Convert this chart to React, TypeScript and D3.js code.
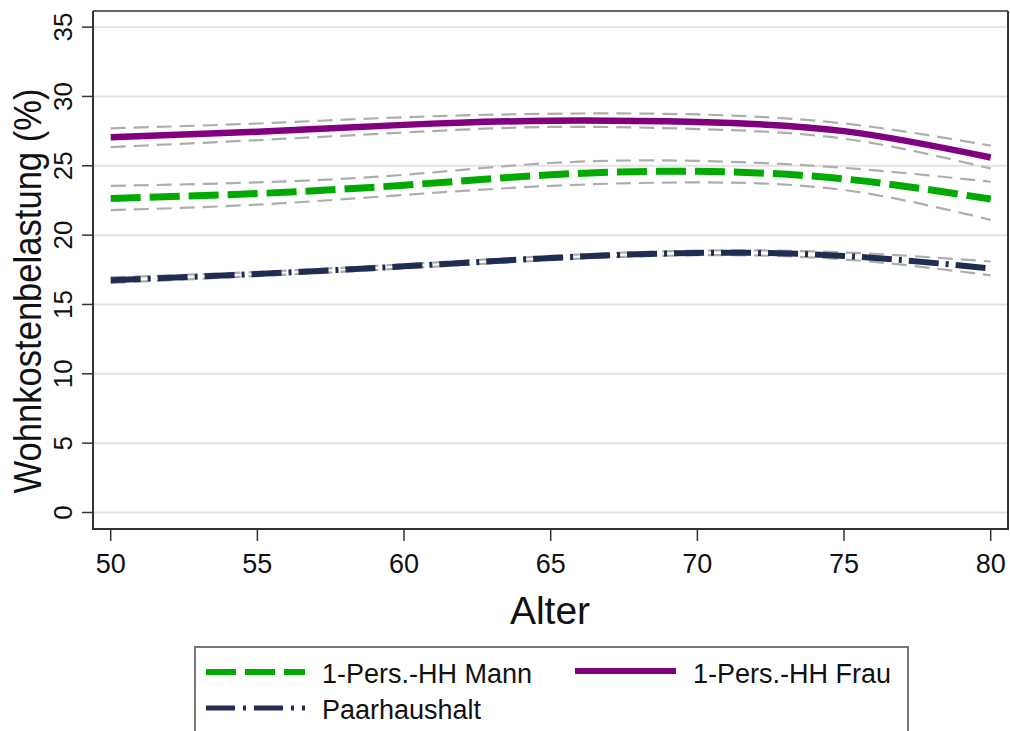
import React from "react";
import * as d3 from "d3";

const ages = [50, 55, 60, 65, 70, 75, 80];
const mann = [22.65, 23.0, 23.6, 24.35, 24.6, 24.05, 22.6];
const mannUpper = [23.55, 23.8, 24.35, 25.2, 25.35, 24.85, 23.85];
const mannLower = [21.8, 22.2, 22.9, 23.55, 23.8, 23.25, 21.1];
const frau = [27.05, 27.45, 27.95, 28.25, 28.15, 27.5, 25.6];
const frauUpper = [27.7, 28.05, 28.5, 28.75, 28.7, 28.05, 26.45];
const frauLower = [26.35, 26.85, 27.4, 27.8, 27.65, 26.95, 24.8];
const paar = [16.75, 17.2, 17.75, 18.35, 18.72, 18.5, 17.6];
const paarUpper = [16.95, 17.35, 17.9, 18.5, 18.88, 18.75, 18.1];
const paarLower = [16.55, 17.05, 17.6, 18.2, 18.55, 18.25, 17.1];
const xTicks = [50, 55, 60, 65, 70, 75, 80];
const yTicks = [0, 5, 10, 15, 20, 25, 30, 35];

const FONT = "'Liberation Sans', Arial, sans-serif";

export default function App() {
  const left = 93, right = 1008, top = 11, bottom = 529;
  const x = d3.scaleLinear().domain([50, 80]).range([110.7, 990.7]);
  const y = d3.scaleLinear().domain([0, 35]).range([512.5, 27.1]);
  const line = d3
    .line<number>()
    .x((_, i) => x(ages[i]))
    .y((d) => y(d))
    .curve(d3.curveNatural);

  const ciStyle = { fill: "none", stroke: "#adadad", strokeWidth: 2.2, strokeDasharray: "15 8" };

  return (
    <svg
      width={1010}
      height={731}
      style={{ position: "absolute", left: 0, top: 0, background: "#fff" }}
      fontFamily={FONT}
    >
      <rect x={0} y={0} width={1010} height={731} fill="#fff" />
      {/* gridlines */}
      {yTicks.map((t) => (
        <line key={"g" + t} x1={left} x2={right} y1={y(t)} y2={y(t)} stroke="#e3e3e3" strokeWidth={2} />
      ))}
      {/* frame */}
      <line x1={left} x2={right} y1={top} y2={top} stroke="#666" strokeWidth={2} />
      <line x1={right} x2={right} y1={top} y2={bottom} stroke="#333" strokeWidth={2} />
      <line x1={left} x2={left} y1={top} y2={bottom + 1} stroke="#333" strokeWidth={2} />
      <line x1={left - 1} x2={right + 1} y1={bottom} y2={bottom} stroke="#333" strokeWidth={2} />
      {/* y ticks */}
      {yTicks.map((t) => (
        <g key={"yt" + t}>
          <line x1={left - 11} x2={left} y1={y(t)} y2={y(t)} stroke="#333" strokeWidth={1.5} />
          <text
            transform={`translate(72,${y(t)}) rotate(-90)`}
            textAnchor="middle"
            fontSize={26}
            fill="#111"
          >
            {t}
          </text>
        </g>
      ))}
      {/* x ticks */}
      {xTicks.map((t) => (
        <g key={"xt" + t}>
          <line x1={x(t)} x2={x(t)} y1={bottom} y2={bottom + 12} stroke="#333" strokeWidth={1.5} />
          <text x={x(t)} y={573} textAnchor="middle" fontSize={27} fill="#111">
            {t}
          </text>
        </g>
      ))}
      {/* axis titles */}
      <text x={550} y={624} textAnchor="middle" fontSize={39} fill="#111">
        Alter
      </text>
      <text
        transform="translate(41,291) rotate(-90)"
        textAnchor="middle"
        fontSize={38}
        fill="#111"
        textLength={405}
        lengthAdjust="spacingAndGlyphs"
      >
        Wohnkostenbelastung (%)
      </text>
      {/* CI lines */}
      {[frauUpper, frauLower, mannUpper, mannLower, paarUpper, paarLower].map((s, i) => (
        <path key={"ci" + i} d={line(s) || ""} style={ciStyle} />
      ))}
      {/* main lines */}
      <path d={line(frau) || ""} fill="none" stroke="#800080" strokeWidth={6.5} />
      <path d={line(mann) || ""} fill="none" stroke="#00aa00" strokeWidth={7} strokeDasharray="30 9" />
      <path d={line(paar) || ""} fill="none" stroke="#1f2d52" strokeWidth={6} strokeDasharray="30 7 3 7" />
      {/* legend */}
      <rect x={195} y={647} width={713} height={120} fill="#fff" stroke="#777" strokeWidth={2} />
      <line x1={206} x2={305} y1={672} y2={672} stroke="#00aa00" strokeWidth={6} strokeDasharray="30 9" />
      <text x={322} y={683} fontSize={27} fill="#111">1-Pers.-HH Mann</text>
      <line x1={575} x2={676} y1={671} y2={671} stroke="#800080" strokeWidth={6} />
      <text x={693} y={683} fontSize={27} fill="#111">1-Pers.-HH Frau</text>
      <line x1={206} x2={305} y1={708} y2={708} stroke="#1f2d52" strokeWidth={5} strokeDasharray="29 8 3 8" />
      <text x={322} y={719} fontSize={27} fill="#111">Paarhaushalt</text>
    </svg>
  );
}
